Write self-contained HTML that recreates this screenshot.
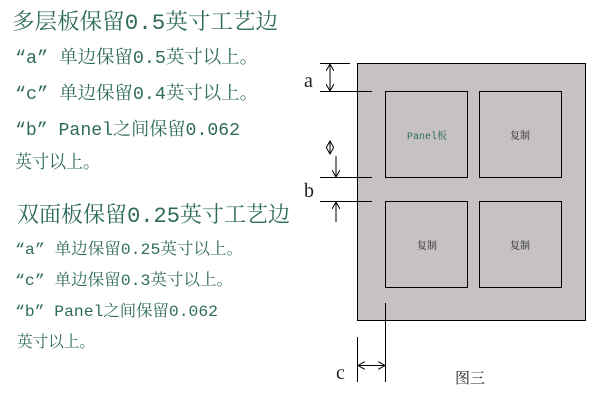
<!DOCTYPE html>
<html><head><meta charset="utf-8"><style>
html,body{margin:0;padding:0;background:#fff;}
svg{display:block;}
.t{font-family:"Liberation Mono","Noto Serif CJK SC",serif;fill:#2f6b5c;}
.k{font-family:"Liberation Serif","Noto Serif CJK SC",serif;fill:#222;}
</style></head><body>
<svg width="596" height="402" viewBox="0 0 596 402" xmlns="http://www.w3.org/2000/svg">
<defs>
<marker id="ar" markerWidth="8" markerHeight="8" refX="7" refY="4" orient="auto-start-reverse" markerUnits="userSpaceOnUse"><path d="M0,0 L7,4 L0,8" fill="none" stroke="#000" stroke-width="1"/></marker>
</defs>
<text class="t" x="12" y="29" font-size="22" textLength="266" lengthAdjust="spacingAndGlyphs">多层板保留0.5英寸工艺边</text>
<text class="t" x="15" y="63" font-size="18" textLength="243" lengthAdjust="spacingAndGlyphs">“a” 单边保留0.5英寸以上。</text>
<text class="t" x="15" y="99" font-size="18" textLength="243" lengthAdjust="spacingAndGlyphs">“c” 单边保留0.4英寸以上。</text>
<text class="t" x="15" y="135" font-size="18" textLength="225" lengthAdjust="spacingAndGlyphs">“b” Panel之间保留0.062</text>
<text class="t" x="15" y="168" font-size="18" textLength="85" lengthAdjust="spacingAndGlyphs">英寸以上。</text>
<text class="t" x="17" y="222" font-size="22" textLength="273" lengthAdjust="spacingAndGlyphs">双面板保留0.25英寸工艺边</text>
<text class="t" x="15" y="254" font-size="16" textLength="228" lengthAdjust="spacingAndGlyphs">“a” 单边保留0.25英寸以上。</text>
<text class="t" x="15" y="285" font-size="16" textLength="218" lengthAdjust="spacingAndGlyphs">“c” 单边保留0.3英寸以上。</text>
<text class="t" x="15" y="316" font-size="16" textLength="203" lengthAdjust="spacingAndGlyphs">“b” Panel之间保留0.062</text>
<text class="t" x="17" y="347" font-size="16" textLength="78" lengthAdjust="spacingAndGlyphs">英寸以上。</text>

<rect x="357.5" y="63.5" width="228" height="257" fill="#c6c2c3" stroke="#000"/>
<rect x="385.5" y="91.5" width="82" height="86" fill="none" stroke="#000"/>
<rect x="479.5" y="91.5" width="82" height="86" fill="none" stroke="#000"/>
<rect x="385.5" y="201.5" width="82" height="86" fill="none" stroke="#000"/>
<rect x="479.5" y="201.5" width="82" height="86" fill="none" stroke="#000"/>
<text x="427" y="139" font-size="10" text-anchor="middle" font-family="Liberation Mono,'Noto Serif CJK SC',serif" fill="#2f6b5c">Panel板</text>
<text class="k" x="520" y="139" font-size="10" text-anchor="middle">复制</text>
<text class="k" x="427" y="249" font-size="10" text-anchor="middle">复制</text>
<text class="k" x="520" y="249" font-size="10" text-anchor="middle">复制</text>

<g stroke="#000" stroke-width="1" fill="none">
<line x1="320" y1="63.5" x2="350" y2="63.5"/>
<line x1="320" y1="91.5" x2="372" y2="91.5"/>
<line x1="330" y1="64" x2="330" y2="91" marker-start="url(#ar)" marker-end="url(#ar)"/>
<line x1="330" y1="141" x2="330" y2="154" marker-start="url(#ar)" marker-end="url(#ar)"/>
<line x1="336" y1="156" x2="336" y2="177" marker-end="url(#ar)"/>
<line x1="320" y1="177.5" x2="372" y2="177.5"/>
<line x1="320" y1="201.5" x2="372" y2="201.5"/>
<line x1="336" y1="222" x2="336" y2="202" marker-end="url(#ar)"/>
<line x1="357.5" y1="337" x2="357.5" y2="382"/>
<line x1="385.5" y1="303" x2="385.5" y2="382"/>
<line x1="358" y1="365.5" x2="385" y2="365.5" marker-start="url(#ar)" marker-end="url(#ar)"/>
</g>
<text class="k" x="304" y="87" font-size="20">a</text>
<text class="k" x="304" y="197" font-size="20">b</text>
<text class="k" x="336" y="379" font-size="20">c</text>
<text class="k" x="455" y="383" font-size="15">图三</text>
</svg>
</body></html>
